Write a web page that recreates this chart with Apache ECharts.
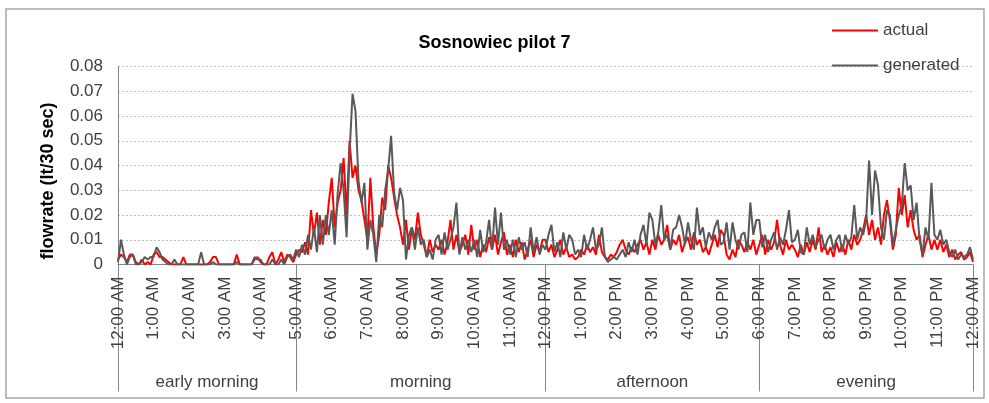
<!DOCTYPE html>
<html>
<head>
<meta charset="utf-8">
<script src="https://cdn.jsdelivr.net/npm/echarts@6/dist/echarts.min.js"></script>
<style>
html,body{margin:0;padding:0;background:#fff;}
#chart{width:989px;height:403px;}
</style>
</head>
<body>
<div id="chart"></div>
<script>
// ---- data ----
const chartTitle = 'Sosnowiec pilot 7';
const yAxisName = 'flowrate (lt/30 sec)';
const seriesNames = ['actual', 'generated'];
const xTickLabels = ['12:00 AM','1:00 AM','2:00 AM','3:00 AM','4:00 AM','5:00 AM','6:00 AM','7:00 AM','8:00 AM','9:00 AM','10:00 AM','11:00 AM',
  '12:00 PM','1:00 PM','2:00 PM','3:00 PM','4:00 PM','5:00 PM','6:00 PM','7:00 PM','8:00 PM','9:00 PM','10:00 PM','11:00 PM','12:00 AM'];
const yTickLabels = ['0','0.01','0.02','0.03','0.04','0.05','0.06','0.07','0.08'];
const periodLabels = ['early morning','morning','afternoon','evening'];
const periodBounds = [0, 300, 720, 1080, 1440]; // minutes
const stepMinutes = 5;

// values every 5 minutes, 00:00 .. 24:00 (one row per hour)
const actual = [
  0.002,0.004,0.003,0.001,0.004,0.004,0.001,0,0.002,0,0.001,0,
  0.004,0.005,0.003,0.003,0.002,0.001,0,0,0,0,0.003,0,
  0,0,0,0,0,0,0,0.001,0.003,0.003,0,0,
  0,0,0,0,0.004,0,0,0,0,0,0.002,0.003,
  0.001,0,0,0.003,0.005,0,0.002,0.005,0.001,0.004,0.003,0.001,
  0.004,0.006,0.005,0.009,0.004,0.022,0.012,0.021,0.008,0.018,0.012,0.025,
  0.035,0.015,0.025,0.030,0.043,0.020,0.050,0.035,0.040,0.030,0.026,0.018,
  0.010,0.035,0.015,0.004,0.012,0.027,0.022,0.040,0.035,0.027,0.020,0.015,
  0.008,0.018,0.006,0.015,0.010,0.021,0.012,0.008,0.003,0.010,0.005,0.008,
  0.006,0.010,0.004,0.009,0.018,0.006,0.012,0.005,0.008,0.012,0.004,0.016,
  0.006,0.010,0.003,0.008,0.005,0.011,0.006,0.012,0.004,0.009,0.013,0.004,
  0.008,0.003,0.010,0.005,0.009,0.002,0.006,0.010,0.003,0.008,0.005,0.010,
  0.010,0.005,0.008,0.003,0.006,0.010,0.004,0.007,0.003,0.004,0.002,0.003,
  0.006,0.004,0.008,0.005,0.007,0.004,0.012,0.005,0.003,0.002,0.004,0.003,
  0.005,0.008,0.010,0.006,0.004,0.007,0.005,0.008,0.010,0.006,0.009,0.004,
  0.010,0.006,0.012,0.008,0.010,0.016,0.006,0.010,0.008,0.012,0.005,0.009,
  0.011,0.006,0.013,0.008,0.010,0.005,0.007,0.004,0.008,0.012,0.007,0.014,
  0.012,0.004,0.002,0.006,0.003,0.010,0.008,0.005,0.009,0.006,0.010,0.004,
  0.008,0.012,0.004,0.010,0.006,0.009,0.018,0.008,0.004,0.010,0.006,0.008,
  0.006,0.003,0.008,0.004,0.009,0.005,0.010,0.006,0.015,0.005,0.008,0.004,
  0.007,0.003,0.009,0.005,0.008,0.004,0.010,0.006,0.012,0.008,0.010,0.014,
  0.020,0.012,0.018,0.010,0.015,0.008,0.020,0.026,0.018,0.006,0.012,0.031,
  0.020,0.028,0.015,0.022,0.014,0.010,0.012,0.003,0.008,0.012,0.006,0.010,
  0.006,0.010,0.005,0.008,0.003,0.006,0.002,0.004,0.005,0.002,0.003,0.005,
  0.001
];
const generated = [
  0.001,0.010,0.004,0,0.003,0.004,0,0,0.001,0.003,0.002,0.003,
  0.003,0.007,0.005,0.002,0.001,0,0,0.002,0,0,0,0,
  0,0,0,0,0.005,0,0,0,0.001,0,0,0,
  0,0,0,0,0.001,0,0,0,0,0,0.003,0.002,
  0.002,0,0,0,0.002,0,0,0.002,0,0.003,0.004,0.002,
  0.006,0.003,0.008,0.004,0.012,0.006,0.015,0.005,0.020,0.008,0.020,0.012,
  0.022,0.008,0.029,0.041,0.030,0.011,0.045,0.069,0.062,0.034,0.025,0.033,
  0.006,0.018,0.012,0.001,0.020,0.015,0.030,0.038,0.052,0.029,0.022,0.031,
  0.026,0.002,0.012,0.015,0.006,0.015,0.008,0.010,0.003,0.006,0.002,0.010,
  0.012,0.004,0.013,0.006,0.010,0.015,0.025,0.004,0.011,0.006,0.010,0.005,
  0.010,0.003,0.014,0.005,0.009,0.018,0.006,0.023,0.008,0.021,0.006,0.010,
  0.004,0.010,0.003,0.011,0.006,0.009,0.003,0.015,0.005,0.011,0.004,0.008,
  0.006,0.012,0.016,0.005,0.009,0.003,0.013,0.006,0.012,0.010,0.004,0.006,
  0.003,0.012,0.006,0.010,0.015,0.006,0.008,0.015,0.003,0.001,0.002,0.003,
  0.002,0.004,0.006,0.003,0.009,0.005,0.010,0.004,0.012,0.016,0.008,0.021,
  0.018,0.008,0.013,0.024,0.010,0.012,0.006,0.014,0.015,0.020,0.015,0.008,
  0.017,0.010,0.006,0.023,0.012,0.015,0.007,0.013,0.010,0.015,0.018,0.008,
  0.009,0.017,0.006,0.017,0.010,0.006,0.012,0.013,0.005,0.025,0.012,0.018,
  0.018,0.007,0.012,0.005,0.010,0.013,0.006,0.011,0.008,0.014,0.022,0.009,
  0.010,0.014,0.005,0.004,0.015,0.008,0.012,0.007,0.010,0.012,0.006,0.010,
  0.012,0.006,0.010,0.012,0.005,0.012,0.008,0.011,0.024,0.010,0.015,0.012,
  0.018,0.042,0.020,0.038,0.032,0.015,0.010,0.022,0.020,0.008,0.014,0.020,
  0.024,0.041,0.030,0.032,0.018,0.025,0.010,0.004,0.015,0.010,0.033,0.012,
  0.010,0.014,0.008,0.010,0.005,0.003,0.006,0.002,0.004,0.003,0.004,0.007,
  0.002
];

// ---- chart ----
const FONT = 'Liberation Sans';
const TXT = '#404040';
const toPairs = arr => arr.map((v, i) => [i * stepMinutes, v]);
const periodMids = periodLabels.map((_, i) => (periodBounds[i] + periodBounds[i + 1]) / 2);

const chart = echarts.init(document.getElementById('chart'), null, { renderer: 'canvas' });
chart.setOption({
  animation: false,
  backgroundColor: '#fff',
  title: {
    text: chartTitle,
    left: 'center',
    top: 29,
    textStyle: { fontFamily: FONT, fontSize: 18, fontWeight: 'bold', color: '#000' }
  },
  legend: {
    orient: 'vertical',
    left: 827,
    top: 17,
    icon: 'rect',
    itemWidth: 46,
    itemHeight: 2,
    itemGap: 18,
    textStyle: { fontFamily: FONT, fontSize: 17, color: TXT },
    data: seriesNames
  },
  graphic: [{
    type: 'rect',
    shape: { x: 6, y: 9, width: 978, height: 389 },
    style: { fill: 'none', stroke: '#A6A6A6', lineWidth: 1.5 },
    silent: true
  }, {
    type: 'text',
    x: 48, y: 181,
    rotation: Math.PI / 2,
    style: {
      text: yAxisName, fontFamily: FONT, fontSize: 18, fontWeight: 'bold', fill: '#000',
      align: 'center', verticalAlign: 'middle'
    },
    silent: true
  }],
  grid: { left: 118, right: 16, top: 66.5, bottom: 138.5, containLabel: false, outerBoundsMode: 'none' },
  xAxis: [{
    type: 'value',
    min: 0, max: 1440, interval: 60,
    axisLine: { show: true, lineStyle: { color: '#868686', width: 1 } },
    axisTick: { show: false },
    splitLine: { show: false },
    axisLabel: {
      rotate: 90, margin: 12,
      fontFamily: FONT, fontSize: 17, color: TXT,
      formatter: v => xTickLabels[Math.round(v / 60)]
    }
  }, {
    type: 'value',
    position: 'bottom',
    min: 0, max: 1440,
    axisLine: { show: false },
    splitLine: { show: false },
    axisTick: {
      show: true, customValues: periodBounds, length: 127, inside: false,
      lineStyle: { color: '#868686', width: 1 }
    },
    axisLabel: {
      customValues: periodMids, margin: 109,
      fontFamily: FONT, fontSize: 17, color: TXT,
      formatter: v => periodLabels[periodMids.indexOf(v)]
    }
  }],
  yAxis: {
    type: 'value',
    min: 0, max: 0.08, interval: 0.01,
    axisLine: { show: true, lineStyle: { color: '#868686', width: 1 } },
    axisTick: { show: false },
    splitLine: { show: true, lineStyle: { color: '#BFBFBF', type: [2, 2], width: 1 } },
    axisLabel: {
      margin: 15, fontFamily: FONT, fontSize: 17, color: TXT,
      formatter: v => yTickLabels[Math.round(v / 0.01)]
    }
  },
  series: [{
    name: seriesNames[0],
    type: 'line',
    data: toPairs(actual),
    showSymbol: false,
    sampling: 'none',
    color: '#FF0000',
    lineStyle: { width: 2, color: '#FF0000' }
  }, {
    name: seriesNames[1],
    type: 'line',
    data: toPairs(generated),
    showSymbol: false,
    sampling: 'none',
    color: '#595959',
    lineStyle: { width: 2, color: '#595959' }
  }]
});
</script>
</body>
</html>
